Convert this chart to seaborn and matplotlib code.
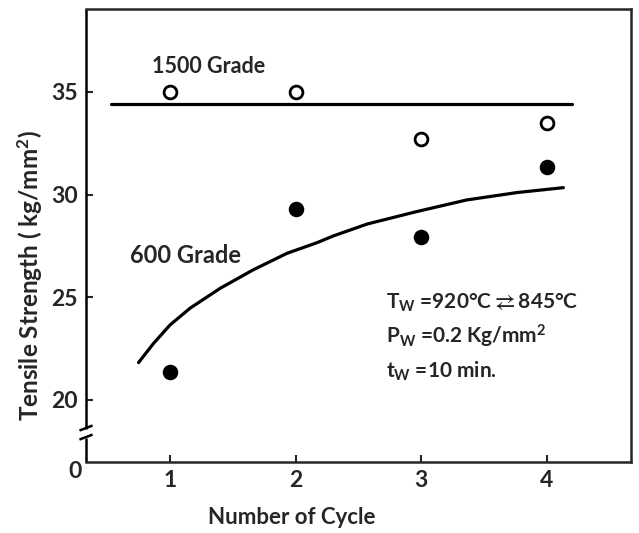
import matplotlib
matplotlib.use("Agg")
import matplotlib.pyplot as plt
import pandas as pd
import seaborn as sns

# Measured tensile strength per weld cycle
cycles = [1, 2, 3, 4]
strength_1500 = [35.0, 35.0, 32.7, 33.5]
strength_600 = [21.35, 29.3, 27.95, 31.33]

# Hand-fitted trend lines
trend_1500_x = [0.53, 4.2]
trend_1500_y = [34.4, 34.4]
trend_600_x = [0.75, 0.87, 1.0, 1.16, 1.40, 1.66, 1.93, 2.17, 2.30, 2.57, 2.96, 3.36, 3.76, 4.13]
trend_600_y = [21.82, 22.76, 23.65, 24.47, 25.44, 26.33, 27.14, 27.66, 27.99, 28.57, 29.17, 29.74,
               30.10, 30.34]

x_ticks = [1, 2, 3, 4]
y_ticks = [20, 25, 30, 35]

sns.set_style("ticks")
plt.rcParams["font.family"] = ["Lato", "DejaVu Sans"]
plt.rcParams["font.weight"] = "bold"
plt.rcParams["mathtext.fontset"] = "custom"
plt.rcParams["mathtext.rm"] = "Lato:bold"
plt.rcParams["mathtext.it"] = "Lato:bold"
plt.rcParams["mathtext.bf"] = "Lato:bold"
plt.rcParams["mathtext.fallback"] = "stixsans"

points = pd.DataFrame({
    "cycle": cycles * 2,
    "strength": strength_1500 + strength_600,
    "grade": ["1500"] * 4 + ["600"] * 4,
})

W, H = 639, 533
fig = plt.figure(figsize=(W / 100, H / 100), dpi=100)
ax = fig.add_axes([86 / W, 1 - 462 / H, 545 / W, 453 / H])

sns.lineplot(x=trend_1500_x, y=trend_1500_y, ax=ax, color="black", lw=2.3, sort=False)
sns.lineplot(x=trend_600_x, y=trend_600_y, ax=ax, color="black", lw=2.3, sort=False)

sns.scatterplot(data=points[points.grade == "1500"], x="cycle", y="strength", ax=ax,
                marker="o", s=85, facecolor="white", edgecolor="black", linewidth=2.0, zorder=3)
sns.scatterplot(data=points[points.grade == "600"], x="cycle", y="strength", ax=ax,
                marker="o", s=125, color="black", edgecolor="black", linewidth=0, zorder=3)

ax.set_xlim(0.332, 4.668)
ax.set_ylim(16.98, 39.04)
ax.set_xticks(x_ticks)
ax.set_yticks(y_ticks)
ax.set_xticklabels([str(v) for v in x_ticks])
ax.set_yticklabels([str(v) for v in y_ticks])
ax.tick_params(direction="in", length=5, width=1.5, labelsize=16.5, pad=6)
ax.set_xlabel("")
ax.set_ylabel("")

for side in ["top", "right", "bottom"]:
    ax.spines[side].set_linewidth(1.8)
ax.spines["left"].set_visible(False)

# Broken left axis with slash marks
lk = dict(transform=ax.transAxes, color="black", lw=1.8, clip_on=False, solid_capstyle="butt")
ax.plot([0, 0], [1, 0.073], **lk)
ax.plot([0, 0], [0.053, 0], **lk)
dx, dy = 0.012, 0.0055
for yb in (0.075, 0.055):
    ax.plot([-dx, dx], [yb - dy, yb + dy], **lk)

fig.text(75 / W, 1 - 472 / H, "0", ha="center", va="center", fontsize=16.5, fontweight="bold")

ax.text(0.857, 36.22, "1500 Grade", ha="left", va="center", fontsize=15.5)
ax.text(0.682, 27.06, "600 Grade", ha="left", va="center", fontsize=17)

ax.text(2.72, 24.72, "T$_\\mathregular{W}$ =920°C$\\rightleftarrows$845°C", ha="left", va="center",
        fontsize=15)
ax.text(2.72, 23.1, "P$_\\mathregular{W}$ =0.2 Kg/mm$^\\mathregular{2}$", ha="left", va="center", fontsize=15)
ax.text(2.72, 21.4, "t$_\\mathregular{W}$ =10 min.", ha="left", va="center", fontsize=15)

fig.text(292 / W, 1 - 518 / H, "Number of Cycle", ha="center", va="center", fontsize=16)
fig.text(30 / W, 1 - 276 / H, "Tensile Strength ( kg/mm$^\\mathregular{2}$)", ha="center", va="center",
         rotation=90, fontsize=17.5)

fig.savefig("out.png", dpi=100)
